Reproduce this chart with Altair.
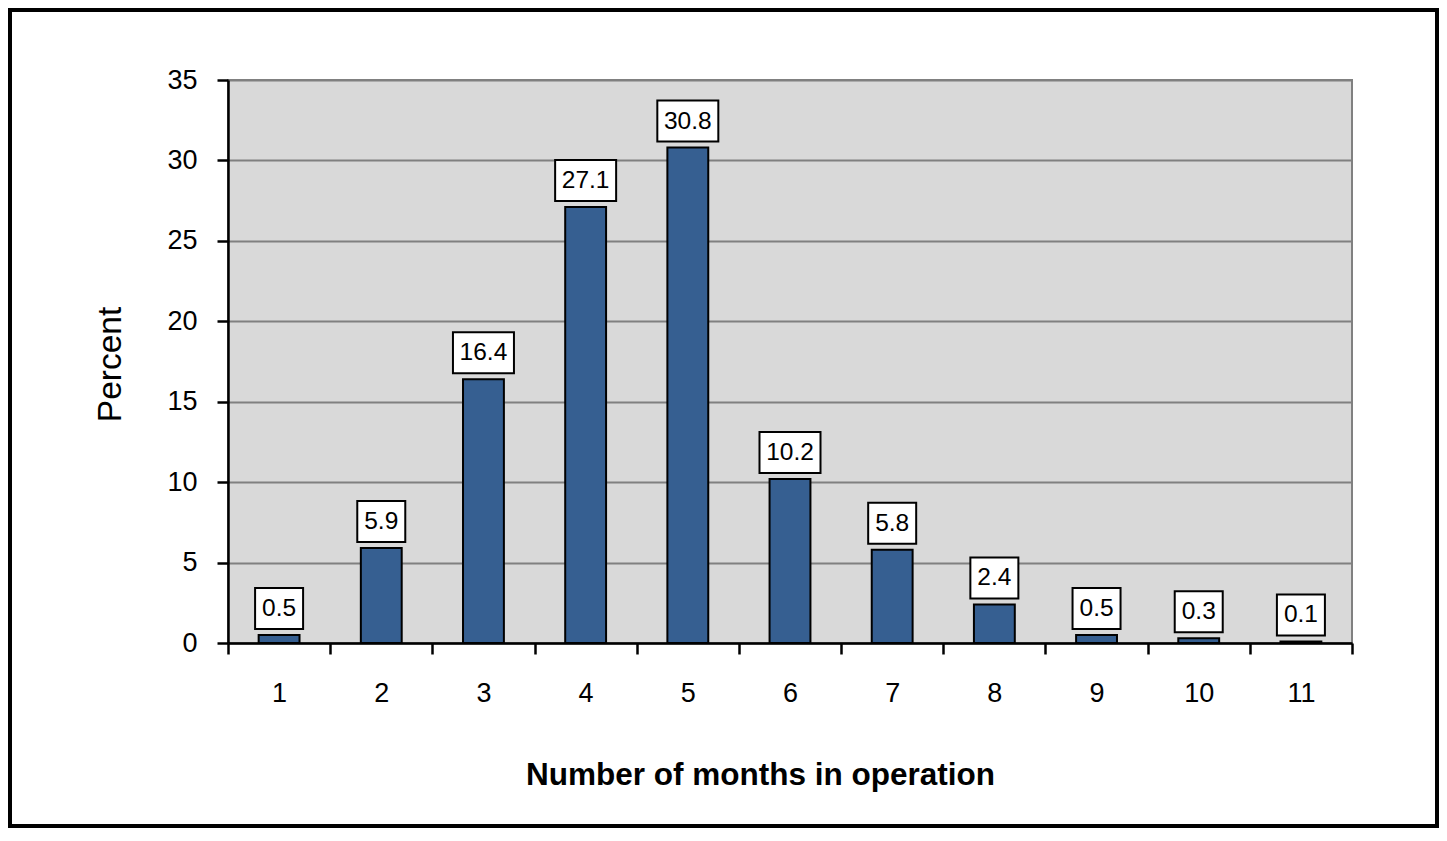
import altair as alt
import pandas as pd

months = ["1", "2", "3", "4", "5", "6", "7", "8", "9", "10", "11"]
percent = [0.5, 5.9, 16.4, 27.1, 30.8, 10.2, 5.8, 2.4, 0.5, 0.3, 0.1]
labels = ["0.5", "5.9", "16.4", "27.1", "30.8", "10.2", "5.8", "2.4", "0.5", "0.3", "0.1"]
y_ticks = [0, 5, 10, 15, 20, 25, 30, 35]

df = pd.DataFrame({"month": months, "percent": percent, "label": labels})

FONT = "Liberation Sans"
W, H = 1124, 563

x_enc = alt.X(
    "month:N",
    sort=months,
    scale=alt.Scale(paddingInner=0, paddingOuter=0),
    axis=alt.Axis(
        title="Number of months in operation",
        labelAngle=0,
        tickBand="extent",
        labelFontSize=27,
        labelFont=FONT,
        labelColor="black",
        labelPadding=26,
        tickSize=11,
        tickWidth=2.5,
        tickColor="black",
        domainColor="black",
        domainWidth=2.5,
        grid=False,
        titleFont=FONT,
        titleFontSize=31.5,
        titleFontWeight="bold",
        titleColor="black",
        titleX=532,
        titleY=141,
        titleAlign="center",
        titleBaseline="alphabetic",
    ),
)

y_enc = alt.Y(
    "percent:Q",
    scale=alt.Scale(domain=[0, 35], nice=False),
    axis=alt.Axis(
        title="Percent",
        values=y_ticks,
        labelFontSize=27,
        labelFont=FONT,
        labelColor="black",
        labelPadding=20,
        tickSize=11,
        tickWidth=2.5,
        tickColor="black",
        domainColor="black",
        domainWidth=2.5,
        gridColor="#808080",
        gridWidth=2,
        titleFont=FONT,
        titleFontSize=33.5,
        titleFontWeight="normal",
        titleColor="black",
        titleX=-118,
        titleY=284,
        titleAngle=-90,
        titleAlign="center",
        titleBaseline="middle",
    ),
)

base = alt.Chart(df)

bars = base.mark_bar(
    width=alt.RelativeBandSize(0.4),
    color="#365f91",
    stroke="black",
    strokeWidth=2,
).encode(x=x_enc, y=y_enc)

boxes = base.transform_calculate(
    boxw="13 * length(datum.label) + 9"
).mark_bar(
    fill="white",
    stroke="black",
    strokeWidth=2,
    yOffset=-6,
    y2Offset=-47,
).encode(
    x=alt.X("month:N", sort=months),
    y=alt.Y("percent:Q"),
    y2=alt.Y2("percent"),
    size=alt.Size("boxw:Q", scale=None, legend=None),
)

texts = base.mark_text(
    font=FONT,
    fontSize=24.5,
    color="black",
    baseline="middle",
    dy=-26,
).encode(
    x=alt.X("month:N", sort=months),
    y=alt.Y("percent:Q"),
    text="label:N",
)

frame = alt.Chart(pd.DataFrame({"f": [0]})).mark_rect(
    fill="transparent", stroke="black", strokeWidth=4
).encode(
    x=alt.value(-218), x2=alt.value(1209), y=alt.value(-70), y2=alt.value(746)
)

chart = alt.layer(bars, boxes, texts, frame).properties(
    width=W,
    height=H,
    autosize=alt.AutoSizeParams(type="none"),
    padding={"left": 220, "top": 72, "right": 87, "bottom": 185},
    background="white",
).configure_view(
    fill="#d9d9d9",
    stroke="#808080",
    strokeWidth=2,
)

chart.save("out.html", embed_options={"renderer": "svg", "actions": False})
